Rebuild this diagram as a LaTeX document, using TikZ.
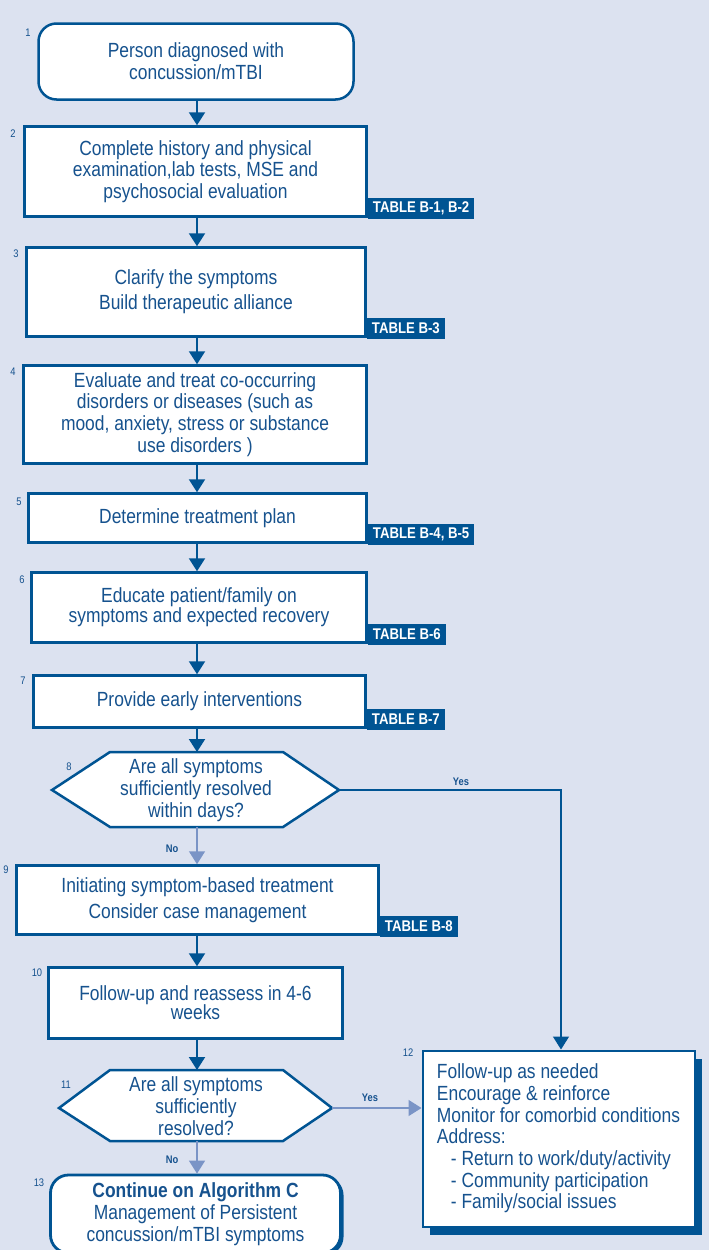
\documentclass[tikz,border=0pt]{standalone}
\usepackage{fontspec}
\setmainfont{Liberation Sans}[FakeStretch=0.85]
\usetikzlibrary{arrows.meta,shadows}
\definecolor{bg}{RGB}{220,226,240}
\definecolor{dblue}{RGB}{0,84,147}
\definecolor{tblue}{RGB}{22,82,142}
\definecolor{lblue}{RGB}{122,148,198}
\begin{document}
\begin{tikzpicture}[x=1pt,y=-1pt,
  box/.style={draw=dblue, line width=2.5pt, fill=white, text=tblue, align=center, inner sep=0pt,
    font=\fontsize{20.5}{21.7}\selectfont},
  hex/.style={draw=dblue, line width=2.5pt, fill=white},
  hextext/.style={text=tblue, align=center, inner sep=0pt, font=\fontsize{20.5}{21.7}\selectfont},
  tag/.style={fill=dblue, text=white, font=\bfseries\fontsize{15.5}{16}\selectfont,
    inner xsep=5pt, inner ysep=0pt, minimum height=21pt, anchor=south west, yshift=-1.25pt},
  num/.style={text=tblue, font=\fontsize{11}{11}\selectfont, inner sep=0pt},
  arr/.style={draw=dblue, line width=2pt, -{Triangle[width=16pt,length=13pt]}},
  larr/.style={draw=lblue, line width=1.5pt, -{Triangle[width=16pt,length=13pt]}},
  yesline/.style={draw=dblue, line width=1.3pt, -{Triangle[width=16pt,length=13pt]}},
  lab/.style={text=tblue, font=\bfseries\fontsize{11}{11}\selectfont, inner sep=0pt},
]
\fill[bg] (0,0) rectangle (709,1250);
\useasboundingbox (0,0) rectangle (709,1250);
\coordinate (ax) at (197,0);

% boxes
\node[box, rounded corners=18pt, minimum width=315pt, minimum height=76pt] (b1) at (196,61.5)
  {Person diagnosed with\\concussion/mTBI};
\node[box, minimum width=342pt, minimum height=90pt] (b2) at (195.5,171.5)
  {Complete history and physical\\examination,lab tests, MSE and\\psychosocial evaluation};
\node[box, minimum width=339pt, minimum height=89pt] (b3) at (196,292)
  {Clarify the symptoms\\[3.5pt]Build therapeutic alliance};
\node[box, minimum width=343pt, minimum height=98pt] (b4) at (195,414.5)
  {Evaluate and treat co-occurring\\disorders or diseases (such as\\mood, anxiety, stress or substance\\use disorders )};
\node[box, minimum width=338pt, minimum height=49pt] (b5) at (197.5,518)
  {Determine treatment plan};
\node[box, minimum width=335pt, minimum height=70pt] (b6) at (199,607.5)
  {Educate patient/family on\\[-1.5pt]symptoms and expected recovery};
\node[box, minimum width=332pt, minimum height=52pt] (b7) at (199.5,701.5)
  {Provide early interventions};

% decision 8
\draw[hex] (52,790) -- (110,752) -- (283,752) -- (339,790) -- (283,827) -- (110,827) -- cycle;
\coordinate (d8n) at (197,752);
\coordinate (d8e) at (339,790);
\coordinate (d8s) at (197,827);
\node[hextext] (d8) at (196,790) {Are all symptoms\\sufficiently resolved\\within days?};

\node[box, minimum width=362pt, minimum height=69pt] (b9) at (197.5,900)
  {Initiating symptom-based treatment\\[4pt]Consider case management};
\node[box, minimum width=294pt, minimum height=71pt] (b10) at (195.5,1003)
  {Follow-up and reassess in 4-6\\[-2.5pt]weeks};

% decision 11
\draw[hex] (59,1108) -- (110,1070) -- (283,1070) -- (332,1108) -- (283,1141) -- (110,1141) -- cycle;
\coordinate (d11n) at (197,1070);
\coordinate (d11e) at (332,1108);
\coordinate (d11s) at (197,1141);
\node[hextext] (d11) at (196,1106) {Are all symptoms\\sufficiently\\resolved?};

\node[box, line width=2.8pt, rounded corners=18pt, minimum width=290pt, minimum height=78pt,
  drop shadow={shadow xshift=3pt, shadow yshift=-2pt, fill=dblue, opacity=1}] (b13) at (195.5,1214)
  {\textbf{Continue on Algorithm C}\\Management of Persistent\\concussion/mTBI symptoms};

\node[box, line width=2pt, minimum width=272pt, minimum height=176pt, align=left,
  drop shadow={shadow xshift=7pt, shadow yshift=-8pt, fill=dblue, opacity=1}] (b12) at (558.5,1138.5)
  {Follow-up as needed\\
   Encourage \& reinforce\\
   Monitor for comorbid conditions\\
   Address:\\
   \hspace*{14pt}- Return to work/duty/activity\\
   \hspace*{14pt}- Community participation\\
   \hspace*{14pt}- Family/social issues};

% tags
\node[tag] (t2) at (b2.south east) {TABLE B-1, B-2};
\node[tag] (t3) at (b3.south east) {TABLE B-3};
\node[tag] (t5) at (b5.south east) {TABLE B-4, B-5};
\node[tag] (t6) at (b6.south east) {TABLE B-6};
\node[tag] (t7) at (b7.south east) {TABLE B-7};
\node[tag] (t9) at (b9.south east) {TABLE B-8};

% numbers
\node[num] (n1) at (28,33) {1};
\node[num] (n2) at (13,134) {2};
\node[num] (n3) at (16,254) {3};
\node[num] (n4) at (13,372) {4};
\node[num] (n5) at (19,502) {5};
\node[num] (n6) at (22,580) {6};
\node[num] (n7) at (23,681) {7};
\node[num] (n8) at (69,767) {8};
\node[num] (n9) at (6,870) {9};
\node[num] (n10) at (37,973) {10};
\node[num] (n11) at (66,1085) {11};
\node[num] (n12) at (408,1053) {12};
\node[num] (n13) at (39,1183) {13};

% connectors
\draw[arr] (b1.south -| ax) -- (b2.north -| ax);
\draw[arr] (b2.south -| ax) -- (b3.north -| ax);
\draw[arr] (b3.south -| ax) -- (b4.north -| ax);
\draw[arr] (b4.south -| ax) -- (b5.north -| ax);
\draw[arr] (b5.south -| ax) -- (b6.north -| ax);
\draw[arr] (b6.south -| ax) -- (b7.north -| ax);
\draw[arr] (b7.south -| ax) -- (d8n);
\draw[larr] (d8s) -- (b9.north -| ax);
\draw[arr] (b9.south -| ax) -- (b10.north -| ax);
\draw[arr] (b10.south -| ax) -- (d11n);
\draw[larr] (d11s) -- (b13.north -| ax);
\coordinate (yc) at (561,790);
\draw[yesline] (d8e) -- (yc) -- (yc |- b12.north);
\draw[larr] (d11e) -- (b12.west |- d11e);

% labels
\node[lab] (y8) at (461,782) {Yes};
\node[lab] (no8) at (172,849) {No};
\node[lab] (y11) at (370,1098) {Yes};
\node[lab] (no11) at (172,1160) {No};
\end{tikzpicture}
\end{document}
